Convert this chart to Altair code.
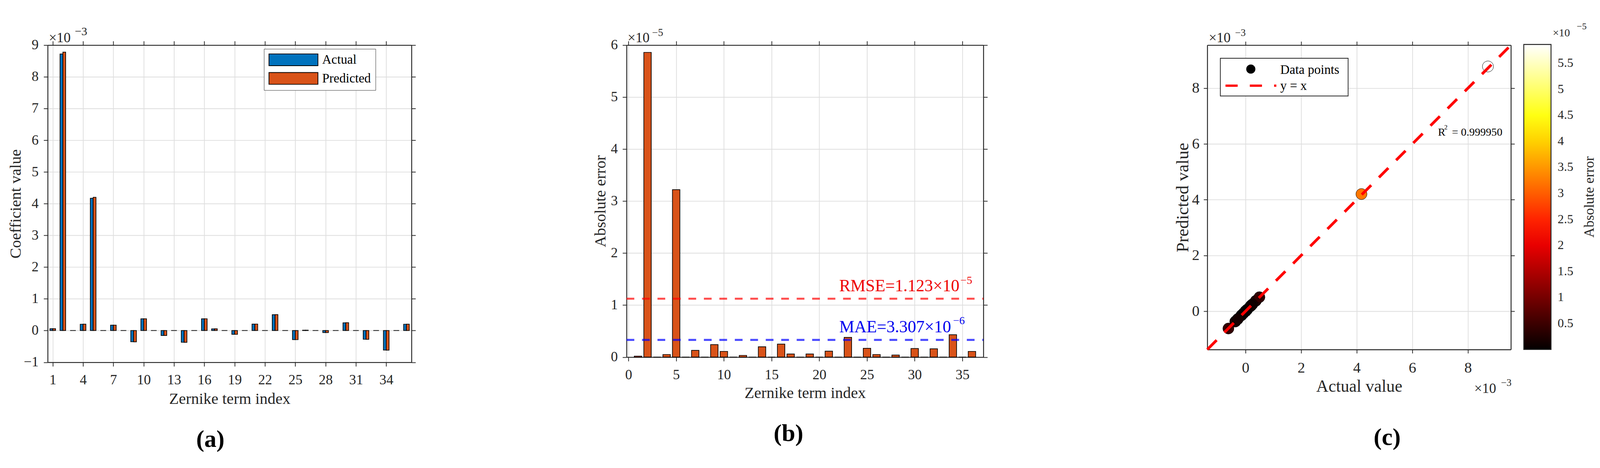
import altair as alt
import pandas as pd

FONT = "Liberation Serif"
INK = "#262626"

# ---------------- data ----------------
zernike_index = list(range(1, 37))
actual_e3 = [0.06, 8.72, 0.0, 0.20, 4.17, 0.0, 0.17, 0.0, -0.355, 0.37, 0.0, -0.155,
             0.0, -0.37, 0.0, 0.37, 0.055, 0.0, -0.12, 0.0, 0.205, 0.0, 0.50, 0.0,
             -0.285, 0.012, 0.0, -0.064, 0.0, 0.245, 0.0, -0.275, 0.0, -0.615, 0.0, 0.20]
predicted_e3 = [0.0602, 8.7786, 0.0, 0.2005, 4.2022, 0.0, 0.1713, 0.0, -0.3574, 0.3711, 0.0, -0.1553,
                0.0, -0.372, 0.0, 0.3725, 0.0556, 0.0, -0.1206, 0.0, 0.2062, 0.0, 0.5038, 0.0,
                -0.2867, 0.0125, 0.0, -0.0644, 0.0, 0.2467, 0.0, -0.2766, 0.0, -0.6193, 0.0, 0.2011]
abs_error_e5 = [0.02, 5.86, 0.0, 0.05, 3.22, 0.0, 0.13, 0.0, 0.24, 0.11, 0.0, 0.033,
                0.0, 0.20, 0.0, 0.25, 0.06, 0.0, 0.06, 0.0, 0.115, 0.0, 0.38, 0.0,
                0.17, 0.05, 0.0, 0.04, 0.0, 0.165, 0.0, 0.16, 0.0, 0.43, 0.0, 0.11]
rmse_e5 = 1.123
mae_e5 = 0.3307
series_names = ["Actual", "Predicted"]
series_colors = ["#0072BD", "#D95319"]

x_ticks_a = [1, 4, 7, 10, 13, 16, 19, 22, 25, 28, 31, 34]
y_ticks_a = [-1, 0, 1, 2, 3, 4, 5, 6, 7, 8, 9]
lims_a = [0.5, 36.5]
x_ticks_b = [0, 5, 10, 15, 20, 25, 30, 35]
y_ticks_b = [0, 1, 2, 3, 4, 5, 6]
lims_b = [-0.2, 37.2]
ticks_c = [0, 2, 4, 6, 8]
lims_c = [-1.375, 9.545]
cbar_ticks = [0.5, 1, 1.5, 2, 2.5, 3, 3.5, 4, 4.5, 5, 5.5]
cbar_lims = [0.0, 5.86]
hot_stops = [0.0, 2.1975, 4.395, 5.86]
hot_colors = ["#030000", "#ff0000", "#ffff00", "#ffffff"]


def text_layer(rows, align="left", weight="normal", angle=0):
    df = pd.DataFrame(rows, columns=["t", "px", "py", "fs", "col"])
    return alt.Chart(df).mark_text(
        align=align, baseline="alphabetic", font=FONT, fontWeight=weight, angle=angle
    ).encode(
        x=alt.X("px:Q", scale=None, axis=None),
        y=alt.Y("py:Q", scale=None, axis=None),
        text="t:N",
        size=alt.Size("fs:Q", scale=None, legend=None),
        color=alt.Color("col:N", scale=None, legend=None),
    )


def pixel_rule(px, px2, py, **mark):
    df = pd.DataFrame({"px": [px], "px2": [px2], "py": [py]})
    return alt.Chart(df).mark_rule(**mark).encode(
        x=alt.X("px:Q", scale=None, axis=None), x2="px2:Q",
        y=alt.Y("py:Q", scale=None, axis=None))


def box_axes(field_x, field_y, xs, ys, xv, yv, tick):
    return dict(
        x=alt.X(field_x, scale=xs, axis=alt.Axis(orient="top", values=xv, labels=False, grid=False,
                                                 tickSize=tick, title=None)),
        y=alt.Y(field_y, scale=ys, axis=alt.Axis(orient="right", values=yv, labels=False, grid=False,
                                                 tickSize=tick, title=None)),
    )


# ---------------- panel (a) ----------------
W_A, H_A = 988, 860.5
rows = []
for i, a, p in zip(zernike_index, actual_e3, predicted_e3):
    rows.append({"idx": i, "series": "Actual", "value": a})
    rows.append({"idx": i, "series": "Predicted", "value": p})
df_a = pd.DataFrame(rows)
xs_a = alt.Scale(domain=lims_a, nice=False, zero=False)
ys_a = alt.Scale(domain=[-1, 9], nice=False, zero=False)

bars_a = alt.Chart(df_a).transform_calculate(
    x0="datum.idx + (datum.series == 'Actual' ? -0.28 : 0)",
    x1="datum.idx + (datum.series == 'Actual' ? 0 : 0.28)",
).mark_rect(stroke="black", strokeWidth=1.8).encode(
    x=alt.X("x0:Q", scale=xs_a, title="Zernike term index",
            axis=alt.Axis(values=x_ticks_a, grid=True, tickSize=11, labelPadding=18.5,
                          labelFontSize=38, titleFontSize=43, titleY=112.5,
                          titleBaseline="alphabetic", labelFlush=False, labelOverlap=False)),
    x2="x1:Q",
    y=alt.Y("value:Q", scale=ys_a, title="Coefficient value",
            axis=alt.Axis(values=y_ticks_a, grid=True, tickSize=11, labelPadding=14,
                          labelFontSize=38, titleFontSize=43, titleX=-73.3, titleAngle=270,
                          titleBaseline="alphabetic", labelOverlap=False)),
    y2=alt.datum(0),
    color=alt.Color("series:N", scale=alt.Scale(domain=series_names, range=series_colors),
                    legend=alt.Legend(title=None, orient="none", legendX=587.4, legendY=10.3,
                                      direction="vertical",
                                      symbolType="M-4.156,-1H4.156V1H-4.156Z", symbolSize=1024,
                                      symbolStrokeColor="black", symbolStrokeWidth=2,
                                      symbolOffset=50.5, labelOffset=60.5, labelFontSize=35,
                                      labelColor="black", padding=12, fillColor="white",
                                      strokeColor=INK, rowPadding=9.5)),
)
frame_a = alt.Chart(df_a).mark_point(opacity=0).encode(
    **box_axes("idx:Q", "value:Q", xs_a, ys_a, x_ticks_a, y_ticks_a, 11))

panel_a = alt.layer(
    bars_a, frame_a,
    pixel_rule(-120.3, 1271.7, -62, opacity=0),
    text_layer([("×10", 3, -8, 38, INK), ("−3", 73.5, -27, 32, INK)]),
    text_layer([("(a)", 441.7, 1090, 66, "black")], align="center", weight="bold"),
).resolve_axis(x="independent", y="independent").properties(width=W_A, height=H_A)

# ---------------- panel (b) ----------------
W_B, H_B = 969, 846.5
df_b = pd.DataFrame({"idx": zernike_index, "err": abs_error_e5})
xs_b = alt.Scale(domain=lims_b, nice=False, zero=False)
ys_b = alt.Scale(domain=[0, 6], nice=False, zero=False)

bars_b = alt.Chart(df_b).transform_calculate(
    xl="datum.idx - 0.39", xr="datum.idx + 0.39"
).mark_rect(fill="#D95319", stroke="black", strokeWidth=1.8).encode(
    x=alt.X("xl:Q", scale=xs_b, title="Zernike term index",
            axis=alt.Axis(values=x_ticks_b, grid=True, tickSize=11, labelPadding=19,
                          labelFontSize=38, titleFontSize=43, titleY=110,
                          titleBaseline="alphabetic", labelFlush=False, labelOverlap=False)),
    x2="xr:Q",
    y=alt.Y("err:Q", scale=ys_b, title="Absolute error",
            axis=alt.Axis(values=y_ticks_b, grid=True, tickSize=11, labelPadding=13.3,
                          labelFontSize=38, titleFontSize=43, titleX=-57.6, titleAngle=270,
                          titleBaseline="alphabetic", labelOverlap=False)),
    y2=alt.datum(0),
)
frame_b = alt.Chart(df_b).mark_point(opacity=0).encode(
    **box_axes("idx:Q", "err:Q", xs_b, ys_b, x_ticks_b, y_ticks_b, 11))
df_lines = pd.DataFrame({"v": [rmse_e5, mae_e5], "c": ["#ff0000", "#0000ff"],
                         "xa": [lims_b[0], lims_b[0]], "xb": [lims_b[1], lims_b[1]]})
metric_lines = alt.Chart(df_lines).mark_rule(opacity=0.7, strokeWidth=5.5, strokeDash=[21, 21]).encode(
    x=alt.X("xa:Q", scale=xs_b, axis=None), x2="xb:Q",
    y=alt.Y("v:Q", scale=ys_b, axis=None),
    color=alt.Color("c:N", scale=None, legend=None),
)

panel_b = alt.layer(
    bars_b, frame_b, metric_lines,
    pixel_rule(-298.3, 1301.7, -77.5, opacity=0),
    text_layer([
        ("×10", 3, -7.5, 38, INK), ("−5", 69.5, -24.5, 28, INK),
        ("RMSE=1.123×10", 577.5, 667.5, 46, "#ee0000"), ("−5", 906.7, 647.5, 30, "#ee0000"),
        ("MAE=3.307×10", 577.5, 779.5, 46, "#0000ee"), ("−6", 886.7, 757.5, 30, "#0000ee"),
    ]),
    text_layer([("(b)", 439.7, 1074.5, 66, "black")], align="center", weight="bold"),
).resolve_axis(x="independent", y="independent").properties(width=W_B, height=H_B)

# ---------------- panel (c) ----------------
W_C, H_C = 824.5, 826
df_c = pd.DataFrame({"actual": actual_e3, "predicted": predicted_e3, "err": abs_error_e5})
xs_c = alt.Scale(domain=lims_c, nice=False, zero=False)
ys_c = alt.Scale(domain=lims_c, nice=False, zero=False)

pts_c = alt.Chart(df_c).mark_circle(size=908, stroke="black", strokeWidth=1, opacity=1).encode(
    x=alt.X("actual:Q", scale=xs_c, title="Actual value",
            axis=alt.Axis(values=ticks_c, grid=True, tickSize=10, labelPadding=19.6,
                          labelFontSize=41, titleFontSize=46, titleY=114,
                          titleBaseline="alphabetic", labelFlush=False, labelOverlap=False)),
    y=alt.Y("predicted:Q", scale=ys_c, title="Predicted value",
            axis=alt.Axis(values=ticks_c, grid=True, tickSize=10, labelPadding=11.5,
                          labelFontSize=41, titleFontSize=48, titleX=-51.7, titleAngle=270,
                          titleBaseline="alphabetic", labelOverlap=False)),
    color=alt.Color("err:Q",
                    scale=alt.Scale(domain=hot_stops, range=hot_colors, interpolate="rgb"),
                    legend=alt.Legend(title=None, orient="none", legendX=859.5, legendY=-1.7,
                                      direction="vertical", gradientLength=827.5,
                                      gradientThickness=74, gradientStrokeColor=INK,
                                      gradientStrokeWidth=2.5, values=cbar_ticks, format=".1~f",
                                      labelFontSize=34, labelOffset=18, labelColor=INK,
                                      padding=0)),
)
frame_c = alt.Chart(df_c).mark_point(opacity=0).encode(
    **box_axes("actual:Q", "predicted:Q", xs_c, ys_c, ticks_c, ticks_c, 10))
line_c = alt.Chart(pd.DataFrame({"v": lims_c})).mark_line(
    color="#ff0000", strokeWidth=7.5, strokeDash=[36, 30]
).encode(x=alt.X("v:Q", scale=xs_c, axis=None), y=alt.Y("v:Q", scale=ys_c, axis=None))

# colorbar tick marks (inward, on the right edge of the colour bar)
cbar_tick_marks = alt.Chart(pd.DataFrame({"v": cbar_ticks, "px": 924.0, "px2": 933.5})).mark_rule(
    color=INK, strokeWidth=2
).encode(
    x=alt.X("px:Q", scale=None, axis=None), x2="px2:Q",
    y=alt.Y("v:Q", scale=alt.Scale(domain=cbar_lims, range=[825.8, -1.7], nice=False, zero=False),
            axis=None),
)

legend_frame = alt.Chart(pd.DataFrame({"px": [35.5], "px2": [382.5], "py": [35.7], "py2": [138]})).mark_rect(
    fill="white", stroke=INK, strokeWidth=2).encode(
    x=alt.X("px:Q", scale=None, axis=None), x2="px2:Q",
    y=alt.Y("py:Q", scale=None, axis=None), y2="py2:Q")
legend_dot = alt.Chart(pd.DataFrame({"px": [118.2], "py": [65]})).mark_circle(
    size=616, color="black", opacity=1).encode(
    x=alt.X("px:Q", scale=None, axis=None), y=alt.Y("py:Q", scale=None, axis=None))
legend_dash = pixel_rule(49.5, 187.5, 110, color="#ff0000", strokeWidth=6, strokeDash=[33, 33])

panel_c = alt.layer(
    pts_c, frame_c, line_c,
    pixel_rule(-273.5, 0, -67, opacity=0),
    legend_frame, legend_dot, legend_dash,
    text_layer([
        ("Data points", 198.2, 78.3, 35, "black"), ("y = x", 198.2, 121.7, 35, "black"),
        ("R", 626.5, 245.6, 30, "black"), ("2", 643.5, 229, 18, "black"),
        ("= 0.999950", 664.5, 245.6, 30, "black"),
        ("×10", 4, -8.3, 38, INK), ("−3", 75.5, -25, 27, INK),
        ("×10", 725, 944, 38, INK), ("−3", 797.5, 925, 27, INK),
        ("×10", 938, -23.3, 30, INK), ("−5", 1003.5, -43, 25, INK),
    ]),
    text_layer([("Absolute error", 1049.5, 412, 38, INK)], align="center", angle=270),
    text_layer([("(c)", 488.5, 1085, 66, "black")], align="center", weight="bold"),
    cbar_tick_marks,
).resolve_scale(y="independent").resolve_axis(x="independent", y="independent").properties(
    width=W_C, height=H_C)

chart = alt.hconcat(panel_a, panel_b, panel_c, spacing=0).properties(
    padding=0
).configure(font=FONT).configure_axis(
    labelFont=FONT, titleFont=FONT, labelColor=INK, titleColor=INK, titleFontWeight="normal",
    domainColor=INK, domainWidth=2.5, tickColor=INK, tickWidth=2,
    gridColor="#dedede", gridWidth=2, gridOpacity=1
).configure_legend(labelFont=FONT, titleFont=FONT).configure_view(stroke="transparent")

chart.save("out.html", embed_options={"renderer": "svg", "actions": False})
